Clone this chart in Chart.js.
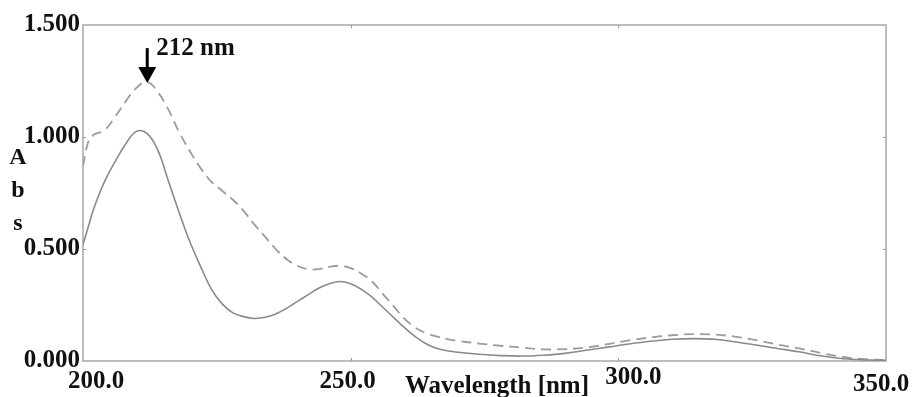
<!DOCTYPE html>
<html>
<head>
<meta charset="utf-8">
<script src="https://cdn.jsdelivr.net/npm/chart.js@4.4.1/dist/chart.umd.min.js"></script>
<style>
  html, body { margin: 0; padding: 0; background: #fff; }
  #wrap { width: 912px; height: 397px; }
</style>
</head>
<body>
<div id="wrap"><canvas id="spectrum" width="912" height="397"></canvas></div>
<script>
// UV spectrum readings (nm / absorbance)
const wavelengths = [200, 201, 202, 204, 206, 208, 210, 212, 214, 216, 218, 220, 222, 224, 226, 228, 230,
    232, 234, 236, 238, 240, 242, 244, 246, 248, 250, 252, 254, 256, 258, 260, 262, 264, 266, 268, 270,
    274, 278, 282, 286, 290, 294, 298, 302, 306, 310, 314, 318, 322, 326, 330, 334, 338, 342, 346, 350];

const absSolid = [0.52, 0.60, 0.68, 0.80, 0.89, 0.97, 1.025, 1.015, 0.94, 0.80, 0.66, 0.53, 0.42, 0.32, 0.255, 0.215, 0.198,
    0.19, 0.195, 0.21, 0.235, 0.265, 0.295, 0.325, 0.345, 0.355, 0.345, 0.32, 0.285, 0.24, 0.195, 0.15, 0.11, 0.078, 0.057, 0.046, 0.039,
    0.03, 0.024, 0.022, 0.026, 0.034, 0.048, 0.062, 0.076, 0.088, 0.097, 0.10, 0.097, 0.085, 0.07, 0.055, 0.04, 0.022, 0.01, 0.005, 0.003];

const absDashed = [0.87, 0.98, 1.01, 1.03, 1.09, 1.16, 1.22, 1.245, 1.20, 1.12, 1.02, 0.935, 0.86, 0.80, 0.76, 0.72, 0.67,
    0.61, 0.555, 0.50, 0.455, 0.425, 0.41, 0.41, 0.42, 0.425, 0.415, 0.39, 0.355, 0.30, 0.245, 0.19, 0.15, 0.125, 0.11, 0.098, 0.09,
    0.078, 0.068, 0.06, 0.052, 0.053, 0.06, 0.075, 0.092, 0.105, 0.115, 0.12, 0.118, 0.108, 0.092, 0.072, 0.055, 0.035, 0.018, 0.008, 0.005];

const xTicks = [200, 250, 300, 350];
const yTicks = [0, 0.5, 1.0, 1.5];
const xTitle = 'Wavelength [nm]';
const yTitle = ['A', 'b', 's'];
const peakWavelength = 212;
const peakLabel = '212 nm';

const FONT = "'Liberation Serif', 'Times New Roman', serif";
const FRAME = '#bdbdbd';

// label nudges, as placed in the original figure
const xLabelShift = { 200: [13, 388], 250: [-3, 388], 300: [15, 384], 350: [-5, 391] };

const framePlugin = {
    id: 'frame',
    beforeDatasetsDraw(chart) {
        const { ctx, chartArea: a, scales: { x, y } } = chart;
        ctx.save();
        ctx.strokeStyle = FRAME;
        ctx.lineWidth = 2;
        ctx.strokeRect(a.left, a.top, a.right - a.left, a.bottom - a.top);
        // small inner tick marks
        ctx.lineWidth = 1;
        ctx.strokeStyle = '#999';
        xTicks.slice(1, -1).forEach(v => {
            const px = Math.round(x.getPixelForValue(v)) + 0.5;
            ctx.beginPath();
            ctx.moveTo(px, a.top); ctx.lineTo(px, a.top + 3);
            ctx.moveTo(px, a.bottom); ctx.lineTo(px, a.bottom - 3);
            ctx.stroke();
        });
        yTicks.slice(1, -1).forEach(v => {
            const py = Math.round(y.getPixelForValue(v)) + 0.5;
            ctx.beginPath();
            ctx.moveTo(a.left, py); ctx.lineTo(a.left + 3, py);
            ctx.moveTo(a.right, py); ctx.lineTo(a.right - 3, py);
            ctx.stroke();
        });
        ctx.restore();
    },
    afterDraw(chart) {
        const { ctx, scales: { x, y } } = chart;
        ctx.save();
        ctx.fillStyle = '#111';
        ctx.font = `bold 25px ${FONT}`;
        ctx.textAlign = 'center';
        ctx.textBaseline = 'alphabetic';
        xTicks.forEach(v => {
            const [dx, base] = xLabelShift[v] || [0, 388];
            ctx.fillText(v.toFixed(1), x.getPixelForValue(v) + dx, base);
        });

        ctx.textAlign = 'left';
        ctx.fillText(xTitle, 405, 393);

        ctx.font = `bold 24px ${FONT}`;
        ctx.textAlign = 'center';
        ctx.textBaseline = 'middle';
        yTitle.forEach((ch, i) => ctx.fillText(ch, 18, 158 + i * 33));

        // peak annotation arrow
        const ax = x.getPixelForValue(peakWavelength);
        const tip = y.getPixelForValue(Math.max(...absDashed)) + 1;
        ctx.strokeStyle = '#000';
        ctx.fillStyle = '#000';
        ctx.lineWidth = 3;
        ctx.beginPath();
        ctx.moveTo(ax, tip - 35);
        ctx.lineTo(ax, tip - 12);
        ctx.stroke();
        ctx.beginPath();
        ctx.moveTo(ax - 9, tip - 16);
        ctx.lineTo(ax + 9, tip - 16);
        ctx.lineTo(ax, tip);
        ctx.closePath();
        ctx.fill();

        ctx.fillStyle = '#111';
        ctx.font = `bold 25px ${FONT}`;
        ctx.textAlign = 'left';
        ctx.textBaseline = 'alphabetic';
        ctx.fillText(peakLabel, ax + 9, 55);
        ctx.restore();
    }
};

const toPoints = ys => wavelengths.map((w, i) => ({ x: w, y: ys[i] }));

new Chart(document.getElementById('spectrum').getContext('2d'), {
    type: 'line',
    data: {
        datasets: [
            {
                label: 'solid',
                data: toPoints(absSolid),
                borderColor: '#8a8a8a',
                borderWidth: 1.6,
                pointRadius: 0,
                tension: 0.4,
                fill: false
            },
            {
                label: 'dashed',
                data: toPoints(absDashed),
                borderColor: '#9c9c9c',
                borderWidth: 1.8,
                borderDash: [10, 6],
                pointRadius: 0,
                tension: 0.4,
                fill: false
            }
        ]
    },
    options: {
        responsive: false,
        animation: false,
        layout: { padding: { top: 25, right: 26, left: 0, bottom: 0 } },
        scales: {
            x: {
                type: 'linear',
                min: 200,
                max: 350,
                grid: { display: false, drawTicks: false },
                border: { display: false },
                ticks: { display: false },
                afterFit: s => { s.height = 36; }
            },
            y: {
                min: 0,
                max: 1.5,
                grid: { display: false, drawTicks: false },
                border: { display: false },
                afterBuildTicks: s => { s.ticks = yTicks.map(v => ({ value: v })); },
                ticks: {
                    color: '#111',
                    padding: 3,
                    font: { family: FONT, size: 25, weight: 'bold' },
                    callback: v => Number(v).toFixed(3)
                },
                afterFit: s => { s.width = 83; }
            }
        },
        plugins: {
            legend: { display: false },
            tooltip: { enabled: false }
        }
    },
    plugins: [framePlugin]
});
</script>
</body>
</html>
